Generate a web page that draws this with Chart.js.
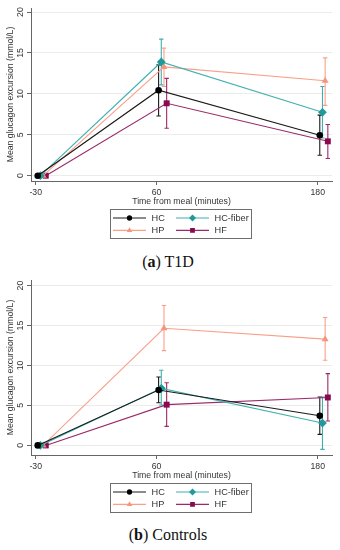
<!DOCTYPE html>
<html>
<head>
<meta charset="utf-8">
<script src="https://cdn.jsdelivr.net/npm/chart.js@4.4.0/dist/chart.umd.min.js"></script>
<style>
body { margin: 0; background: #fff; width: 340px; height: 550px; position: relative; overflow: hidden; }
canvas { position: absolute; left: 0; }
#cvA { top: 0; }
#cvB { top: 272px; }
.cap { position: absolute; left: 0; width: 336px; text-align: center; font-family: "Liberation Serif", serif; font-size: 16px; color: #111; line-height: 20px; }
</style>
</head>
<body>
<canvas id="cvA" width="340" height="245"></canvas>
<div class="cap" style="top:252px">(<b>a</b>) T1D</div>
<canvas id="cvB" width="340" height="245"></canvas>
<div class="cap" style="top:525px">(<b>b</b>) Controls</div>
<script>
// time points (minutes) and tick labels
var times = [-30, 60, 180];
var xTicks = [-30, 60, 180];
var yTicks = [0, 5, 10, 15, 20];
var groups = ['HC', 'HC-fiber', 'HP', 'HF'];
var dodge = [1.5, 3.5, 5.5, 7.5]; // small x shift per group, minutes

// (a) T1D : mean and 95% CI
var t1dMean = [[0, 10.45, 4.94], [0, 13.9, 7.75], [0, 13.3, 11.6], [0, 8.85, 4.2]];
var t1dLow  = [[0, 7.3, 2.5],    [0, 11.1, 4.6],  [0, 10.9, 8.6],  [0, 5.8, 2.1]];
var t1dHigh = [[0, 13.55, 7.4],  [0, 16.7, 10.9], [0, 15.6, 14.4], [0, 11.9, 6.25]];

// (b) Controls
var ctlMean = [[0, 6.93, 3.72], [0, 7.14, 2.8],  [0, 14.66, 13.3], [0, 5.1, 6.0]];
var ctlLow  = [[0, 5.34, 1.38], [0, 5.05, -0.5], [0, 11.86, 10.65], [0, 2.38, 3.05]];
var ctlHigh = [[0, 8.56, 6.05], [0, 9.4, 6.05],  [0, 17.5, 16.0],  [0, 7.85, 8.98]];

var lineColors = ['#1a1a1a', '#3fb0b0', '#f9a08a', '#9a2a68'];
var markColors = ['#000000', '#1f9a9c', '#f7957c', '#8a0a50'];
var markStyles = ['circle', 'rectRot', 'triangle', 'rect'];
var markSizes = [3.3, 4.4, 4, 4.2];

var fontFam = '"Liberation Sans", Arial, sans-serif';
Chart.defaults.font.family = fontFam;
Chart.defaults.color = '#333';

var errorBars = {
  id: 'errorBars',
  beforeDatasetsDraw: function (chart) {
    var ctx = chart.ctx, xs = chart.scales.x, ys = chart.scales.y;
    chart.data.datasets.forEach(function (ds) {
      ctx.save();
      ctx.strokeStyle = ds.borderColor;
      ctx.lineWidth = 1.1;
      ds.data.forEach(function (p, j) {
        if (ds.lo[j] === ds.hi[j]) return;
        var x = xs.getPixelForValue(p.x);
        var y1 = ys.getPixelForValue(ds.lo[j]);
        var y2 = ys.getPixelForValue(ds.hi[j]);
        ctx.beginPath();
        ctx.moveTo(x, y1); ctx.lineTo(x, y2);
        ctx.moveTo(x - 2.2, y1); ctx.lineTo(x + 2.2, y1);
        ctx.moveTo(x - 2.2, y2); ctx.lineTo(x + 2.2, y2);
        ctx.stroke();
      });
      ctx.restore();
    });
  }
};

var boxLegend = {
  id: 'boxLegend',
  afterDraw: function (chart) {
    var ctx = chart.ctx;
    var top = Math.round(chart.chartArea.bottom + 28);
    ctx.save();
    ctx.strokeStyle = '#6e6e6e';
    ctx.lineWidth = 1;
    ctx.strokeRect(110.5, top + 0.5, 141, 29);
    ctx.font = '9.2px ' + fontFam;
    ctx.textBaseline = 'middle';
    chart.data.datasets.forEach(function (ds, i) {
      var col = i % 2, row = Math.floor(i / 2);
      var x0 = col ? 176 : 113;
      var y = top + 9 + row * 12.4;
      ctx.strokeStyle = ds.borderColor;
      ctx.lineWidth = 1.1;
      ctx.beginPath(); ctx.moveTo(x0, y); ctx.lineTo(x0 + 33, y); ctx.stroke();
      ctx.fillStyle = ds.pointBackgroundColor;
      Chart.helpers.drawPoint(ctx, { pointStyle: ds.pointStyle, radius: ds.pointRadius * 0.8, borderWidth: 0, rotation: 0 }, x0 + 16.5, y);
      ctx.fillStyle = '#333';
      ctx.fillText(ds.label, x0 + 38.5, y);
    });
    ctx.restore();
  }
};

function makeChart(id, means, lows, highs, yMin, yMax, bottomPad) {
  var datasets = groups.map(function (g, i) {
    return {
      label: g,
      data: times.map(function (t, j) { return { x: t + dodge[i], y: means[i][j] }; }),
      lo: lows[i],
      hi: highs[i],
      borderColor: lineColors[i],
      backgroundColor: markColors[i],
      pointBackgroundColor: markColors[i],
      pointBorderWidth: 0,
      pointStyle: markStyles[i],
      pointRadius: markSizes[i],
      borderWidth: 1.1,
      tension: 0
    };
  });

  return new Chart(document.getElementById(id), {
    type: 'line',
    data: { datasets: datasets },
    plugins: [errorBars, boxLegend],
    options: {
      responsive: false,
      animation: false,
      layout: { padding: { left: 0, right: 8, top: 8, bottom: bottomPad } },
      plugins: { legend: { display: false }, tooltip: { enabled: false } },
      scales: {
        x: {
          type: 'linear',
          min: -33.5,
          max: 190.6,
          afterBuildTicks: function (s) { s.ticks = xTicks.map(function (v) { return { value: v }; }); },
          afterFit: function (s) { s.height = 28; },
          grid: { drawOnChartArea: false, drawTicks: true, tickLength: 4, tickColor: '#666' },
          border: { color: '#666', width: 1 },
          ticks: { color: '#333', font: { size: 8.7 }, padding: 2, maxRotation: 0, autoSkip: false },
          title: { display: true, text: 'Time from meal (minutes)', color: '#333', font: { size: 8.7 }, padding: { top: 0, bottom: 2 } }
        },
        y: {
          min: yMin,
          max: yMax,
          afterBuildTicks: function (s) { s.ticks = yTicks.map(function (v) { return { value: v }; }); },
          afterFit: function (s) { s.width = 31; },
          grid: { color: '#ececec', lineWidth: 1, drawTicks: true, tickLength: 4, tickColor: '#666' },
          border: { color: '#666', width: 1 },
          ticks: { color: '#333', font: { size: 8.7 }, minRotation: 90, maxRotation: 90, crossAlign: 'center', padding: 1.5 },
          title: { display: true, text: 'Mean glucagon excursion (mmol/L)', color: '#333', font: { size: 8.7 }, padding: { top: 5, bottom: 0 } }
        }
      }
    }
  });
}

makeChart('cvA', t1dMean, t1dLow, t1dHigh, -0.65, 20.5, 36);
makeChart('cvB', ctlMean, ctlLow, ctlHigh, -1.2, 20.7, 34);
</script>
</body>
</html>
